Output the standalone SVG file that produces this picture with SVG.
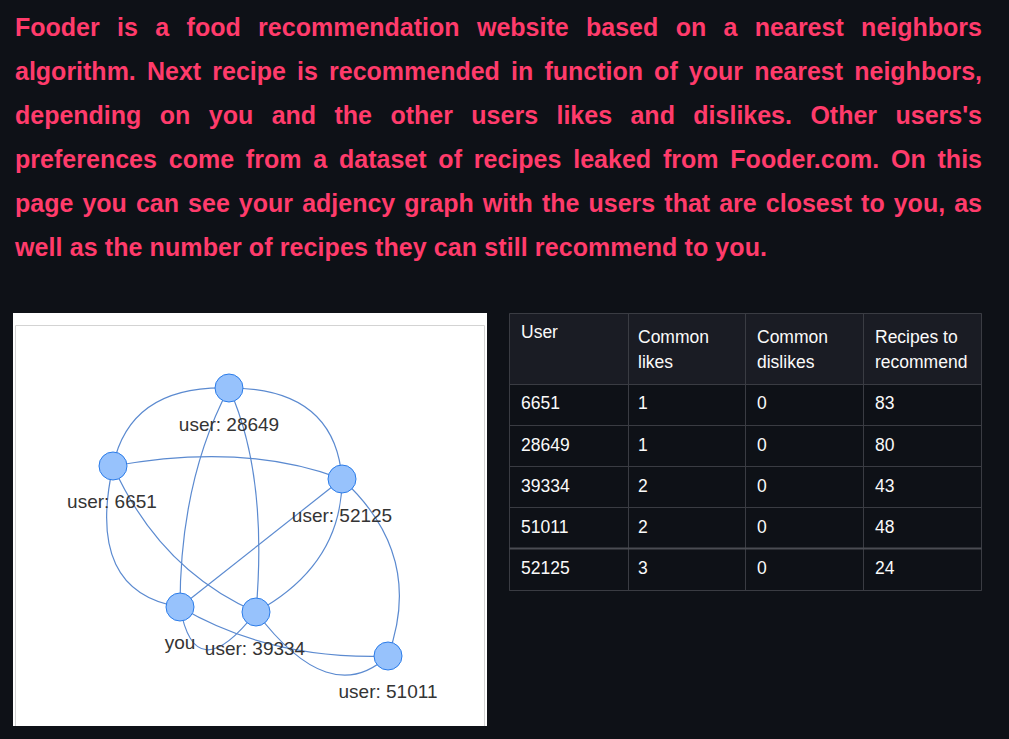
<svg xmlns="http://www.w3.org/2000/svg" width="1009" height="739" viewBox="0 0 1009 739">
<style>
.p{font-family:"Liberation Sans",Arial,sans-serif;font-weight:bold;font-size:25px;fill:#ff3b6b}
.e{fill:none;stroke:#5b8ad0;stroke-width:1.2}
.n circle{fill:#97c2fc;stroke:#2b7ce9;stroke-width:1}
.n text{font-family:"Liberation Sans",Arial,sans-serif;font-size:19px;fill:#343434;text-anchor:middle}
.t{font-family:"Liberation Sans",Arial,sans-serif;font-size:17.5px;fill:#fafafa}
.g{stroke:#3a3c43;stroke-width:1;fill:none}
</style>
<rect x="0" y="0" width="1009" height="739" fill="#0e1117"/>
<g id="intro">
<text class="p" x="15" y="36" word-spacing="10.4" textLength="967" lengthAdjust="spacing">Fooder is a food recommendation website based on a nearest neighbors</text>
<text class="p" x="15" y="80" word-spacing="4.2" textLength="967" lengthAdjust="spacing">algorithm. Next recipe is recommended in function of your nearest neighbors,</text>
<text class="p" x="15" y="124" word-spacing="11.5" textLength="967" lengthAdjust="spacing">depending on you and the other users likes and dislikes. Other users's</text>
<text class="p" x="15" y="168" word-spacing="4.8" textLength="967" lengthAdjust="spacing">preferences come from a dataset of recipes leaked from Fooder.com. On this</text>
<text class="p" x="15" y="212" word-spacing="2.1" textLength="967" lengthAdjust="spacing">page you can see your adjency graph with the users that are closest to you, as</text>
<text class="p" x="15" y="256" textLength="752" lengthAdjust="spacing">well as the number of recipes they can still recommend to you.</text>
</g>
<g id="graph-panel">
<rect x="13" y="313" width="474" height="413" fill="#ffffff"/>
<path d="M15.5,726 V325.5 H484.5 V726" fill="none" stroke="#d3d3d3" stroke-width="1"/>
</g>
<g id="edges">
<path class="e" d="M229,388 Q130,385 113,466"/>
<path class="e" d="M229,388 Q335,388 342,479"/>
<path class="e" d="M113,466 Q245,442 342,479"/>
<path class="e" d="M229,388 Q180,480 180,607"/>
<path class="e" d="M229,388 Q268,475 256,612"/>
<path class="e" d="M113,466 Q85,592 180,607"/>
<path class="e" d="M113,466 Q160,570 256,612"/>
<path class="e" d="M342,479 Q261,543 180,607"/>
<path class="e" d="M342,479 Q342,565 256,612"/>
<path class="e" d="M342,479 Q425,555 388,656"/>
<path class="e" d="M180,607 Q270,660 388,656"/>
<path class="e" d="M180,607 Q195,690 256,612"/>
<path class="e" d="M256,612 Q330,710 388,656"/>
</g>
<g id="node-28649" class="n"><circle cx="229" cy="388" r="14"/><text x="229" y="431">user: 28649</text></g>
<g id="node-6651" class="n"><circle cx="113" cy="466" r="14"/><text x="112" y="508">user: 6651</text></g>
<g id="node-52125" class="n"><circle cx="342" cy="479" r="14"/><text x="342" y="522">user: 52125</text></g>
<g id="node-you" class="n"><circle cx="180" cy="607" r="14"/><text x="180" y="649">you</text></g>
<g id="node-39334" class="n"><circle cx="256" cy="612" r="14"/><text x="255" y="655">user: 39334</text></g>
<g id="node-51011" class="n"><circle cx="388" cy="656" r="14"/><text x="388" y="698">user: 51011</text></g>
<g id="table">
<rect x="509" y="313" width="473" height="71" fill="#1a1c24"/>
<path class="g" d="M509.5,313.5 H981.5 V590.5 H509.5 Z M509.5,384.5 H981.5 M509.5,425.5 H981.5 M509.5,466.5 H981.5 M509.5,507.5 H981.5 M509.5,590.5 H981.5 M628.5,313.5 V590.5 M745.5,313.5 V590.5 M863.5,313.5 V590.5"/>
<path d="M509.5,548.5 H981.5" stroke="#4a4c53" stroke-width="2"/>
<text class="t" x="521" y="338">User</text>
<text class="t" x="638" y="343">Common</text>
<text class="t" x="638" y="368">likes</text>
<text class="t" x="757" y="343">Common</text>
<text class="t" x="757" y="368">dislikes</text>
<text class="t" x="875" y="343">Recipes to</text>
<text class="t" x="875" y="368">recommend</text>
<text class="t" x="521" y="409">6651</text><text class="t" x="638" y="409">1</text><text class="t" x="757" y="409">0</text><text class="t" x="875" y="409">83</text>
<text class="t" x="521" y="451">28649</text><text class="t" x="638" y="451">1</text><text class="t" x="757" y="451">0</text><text class="t" x="875" y="451">80</text>
<text class="t" x="521" y="492">39334</text><text class="t" x="638" y="492">2</text><text class="t" x="757" y="492">0</text><text class="t" x="875" y="492">43</text>
<text class="t" x="521" y="533">51011</text><text class="t" x="638" y="533">2</text><text class="t" x="757" y="533">0</text><text class="t" x="875" y="533">48</text>
<text class="t" x="521" y="574">52125</text><text class="t" x="638" y="574">3</text><text class="t" x="757" y="574">0</text><text class="t" x="875" y="574">24</text>
</g>
</svg>
